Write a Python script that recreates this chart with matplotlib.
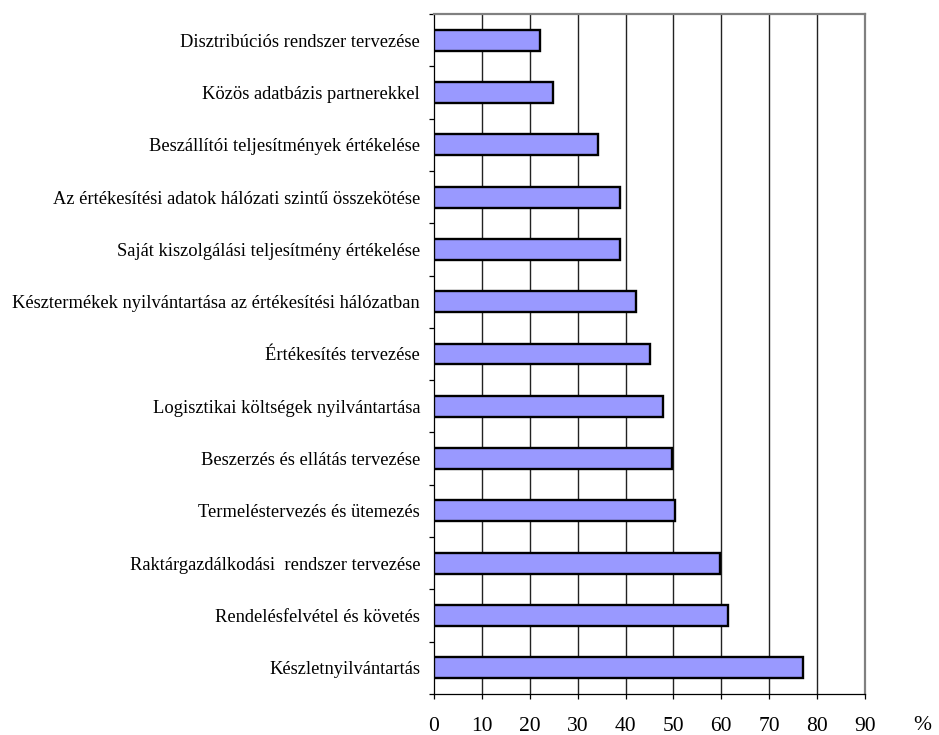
import matplotlib.pyplot as plt
import numpy as np

plt.rcParams['font.family'] = ['Liberation Serif', 'DejaVu Serif']

labels = ['Disztribúciós rendszer tervezése',
          'Közös adatbázis partnerekkel',
          'Beszállítói teljesítmények értékelése',
          'Az értékesítési adatok hálózati szintű összekötése',
          'Saját kiszolgálási teljesítmény értékelése',
          'Késztermékek nyilvántartása az értékesítési hálózatban',
          'Értékesítés tervezése',
          'Logisztikai költségek nyilvántartása',
          'Beszerzés és ellátás tervezése',
          'Termeléstervezés és ütemezés',
          'Raktárgazdálkodási  rendszer tervezése',
          'Rendelésfelvétel és követés',
          'Készletnyilvántartás']
values = [22.1, 24.8, 34.2, 38.9, 38.9, 42.1, 45.2, 47.8, 49.8, 50.3, 59.7, 61.3, 77.1]
xticks = [0, 10, 20, 30, 40, 50, 60, 70, 80, 90]

fig = plt.figure(figsize=(9.39, 7.35), dpi=100)
ax = fig.add_axes([0.4622, 0.0558, 0.459, 0.9252])

y = np.arange(len(labels))
ax.barh(y, values, height=0.4, color='#9999FF', edgecolor='black', linewidth=1.7, zorder=3)

ax.set_xlim(0, 90)
ax.set_ylim(len(labels) - 0.5, -0.5)

# vertical gridlines
for v in xticks[1:-1]:
    ax.axvline(v, color='#222222', linewidth=1.0, zorder=1)

ax.set_xticks(xticks)
ax.set_xticklabels([str(v) for v in xticks], fontsize=15.5)
ax.set_yticks(y)
ax.set_yticklabels(labels, fontsize=13.3)
ax.tick_params(axis='y', which='major', length=0, pad=10)
ax.set_yticks(np.arange(len(labels) + 1) - 0.5, minor=True)
ax.tick_params(axis='y', which='minor', length=3.5, width=0.9, direction='out')
ax.tick_params(axis='x', length=3.5, width=0.9, direction='out', pad=13)

for s in ['top', 'right']:
    ax.spines[s].set_color('#808080')
    ax.spines[s].set_linewidth(1.6)
for s in ['left', 'bottom']:
    ax.spines[s].set_color('black')
    ax.spines[s].set_linewidth(0.9)

ax.text(101.9, -0.0458, '%', transform=ax.get_xaxis_transform(), ha='center', va='center', fontsize=15.5)

fig.savefig('out.png', dpi=100)
